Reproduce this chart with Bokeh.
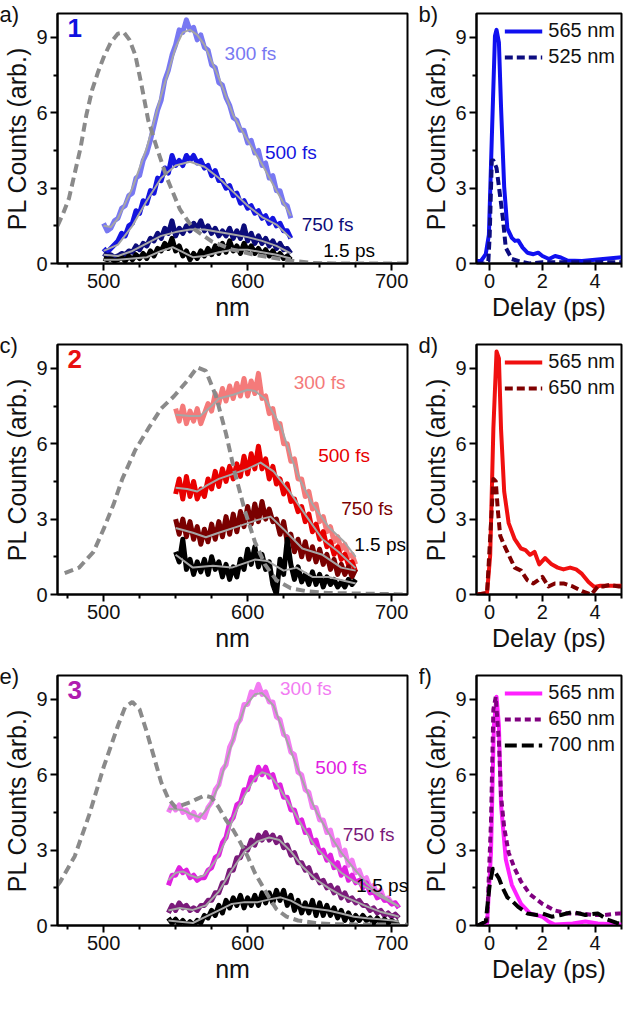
import numpy as np
from bokeh.plotting import figure
from bokeh.layouts import column, row
from bokeh.models import Range1d, FixedTicker, Label, Legend, LegendItem, Title
from bokeh.embed import file_html
from bokeh.resources import INLINE

FONT = "Liberation Sans"

# ---------------- Panel a (compound 1) ----------------
wl_a = np.arange(500, 630.01, 2.5)
a_300fs = [1.6, 1.3, 1.4, 1.7, 1.8, 2.2, 2.3, 2.7, 2.8, 3.4, 3.5, 4.1, 4.4, 4.9, 5.5, 6.1, 6.5, 7.3,
           7.7, 8.3, 8.7, 9.3, 9.2, 9.7, 9.3, 9.4, 8.9, 9.1, 8.6, 8.5, 7.9, 7.8, 7.2, 7.1, 6.6, 6.3,
           5.8, 5.7, 5.3, 5.3, 4.8, 4.9, 4.4, 4.5, 3.9, 4.0, 3.4, 3.5, 2.9, 2.9, 2.4, 2.3, 1.8]
a_500fs = [0.6, 0.45, 0.6, 0.75, 0.9, 1.2, 1.1, 1.5, 1.6, 2.1, 2.0, 2.5, 2.4, 2.9, 2.8, 3.4, 3.3, 3.8,
           3.6, 4.3, 3.9, 4.1, 3.9, 4.3, 4.1, 4.3, 4.0, 4.1, 3.8, 3.9, 3.5, 3.7, 3.3, 3.3, 3.0, 3.1,
           2.7, 2.8, 2.4, 2.5, 2.2, 2.3, 2.0, 2.1, 1.8, 1.9, 1.6, 1.8, 1.5, 1.6, 1.3, 1.3, 1.0]
a_750fs = [0.4, 0.3, 0.35, 0.25, 0.3, 0.4, 0.35, 0.5, 0.45, 0.7, 0.55, 0.8, 0.7, 1.0, 0.9, 1.2, 1.0, 1.4,
           1.2, 1.7, 1.1, 1.4, 1.2, 1.5, 1.3, 1.6, 1.4, 1.7, 1.3, 1.5, 1.2, 1.4, 1.1, 1.3, 1.1, 1.4,
           1.0, 1.3, 1.0, 1.5, 0.9, 1.2, 0.8, 1.1, 0.8, 1.0, 0.7, 0.9, 0.6, 0.8, 0.55, 0.6, 0.4]
a_15ps = [0.2, 0.15, 0.2, 0.1, 0.15, 0.25, 0.1, 0.3, 0.15, 0.35, 0.2, 0.4, 0.2, 0.5, 0.3, 0.6, 0.5, 0.8,
          0.6, 1.0, 0.5, 0.7, 0.3, 0.5, 0.15, 0.4, 0.2, 0.5, 0.3, 0.6, 0.35, 0.7, 0.4, 0.8, 0.45, 0.9,
          0.5, 0.7, 0.4, 0.8, 0.5, 0.7, 0.4, 0.6, 0.35, 0.55, 0.3, 0.5, 0.25, 0.4, 0.2, 0.3, 0.15]
sa_300_x = [500, 505, 510, 520, 530, 540, 550, 555, 560, 565, 570, 580, 590, 600, 610, 620, 630]
sa_300_y = [1.5, 1.45, 1.8, 3.0, 4.6, 6.7, 8.6, 9.2, 9.3, 9.1, 8.7, 7.4, 5.9, 4.9, 3.95, 2.9, 1.9]
sa_500_x = [500, 510, 520, 530, 540, 550, 560, 570, 580, 590, 600, 610, 620, 630]
sa_500_y = [0.5, 0.75, 1.5, 2.5, 3.4, 3.9, 4.05, 3.85, 3.4, 2.85, 2.3, 1.85, 1.55, 1.0]
sa_750_x = [500, 510, 520, 530, 540, 550, 560, 570, 580, 590, 600, 610, 620, 630]
sa_750_y = [0.35, 0.3, 0.5, 0.8, 1.1, 1.25, 1.35, 1.35, 1.25, 1.15, 1.05, 0.9, 0.7, 0.4]
sa_15_x = [500, 510, 520, 530, 540, 548, 555, 562, 570, 580, 590, 600, 610, 620, 630]
sa_15_y = [0.15, 0.15, 0.2, 0.25, 0.5, 0.65, 0.45, 0.25, 0.3, 0.45, 0.55, 0.55, 0.45, 0.35, 0.2]
abs_a_x = [468, 472, 476, 480, 484, 488, 492, 496, 500, 505, 510, 514, 518, 522, 526, 531, 537, 544,
           553, 562, 575, 589, 603, 616, 630, 645, 660, 712]
abs_a_y = [1.5, 2.0, 2.6, 3.6, 4.6, 5.9, 6.9, 7.6, 8.2, 8.8, 9.15, 9.2, 8.9, 8.3, 7.2, 5.7, 4.6, 3.4,
           2.15, 1.4, 0.88, 0.56, 0.37, 0.24, 0.11, 0.02, 0.0, 0.0]

# ---------------- Panel b ----------------
b565_t = [-0.5, -0.33, -0.15, -0.03, 0.08, 0.2, 0.26, 0.35, 0.43, 0.55, 0.67, 0.84, 0.96, 1.08, 1.25,
          1.43, 1.66, 1.84, 2.0, 2.25, 2.48, 2.7, 2.95, 3.5, 4.0, 4.5, 5.0]
b565_y = [0.1, 0.1, 0.37, 1.14, 4.97, 9.05, 9.3, 8.8, 6.25, 3.05, 1.4, 1.02, 0.9, 0.92, 0.63,
          0.43, 0.37, 0.43, 0.3, 0.18, 0.3, 0.24, 0.12, 0.1, 0.15, 0.2, 0.25]
b525_t = [-0.5, -0.2, -0.05, 0.0, 0.08, 0.14, 0.26, 0.37, 0.5, 0.61, 0.84, 1.08, 1.5, 2.0, 3.0, 4.0, 5.0]
b525_y = [0.0, 0.0, 0.1, 1.1, 4.1, 4.1, 3.8, 2.9, 1.8, 0.63, 0.18, 0.1, 0.0, 0.05, 0.05, 0.05, 0.05]

# ---------------- Panel c (compound 2) ----------------
wl_c = np.arange(550, 675.01, 2.5)
c_300fs = [7.4, 6.9, 7.5, 6.8, 7.3, 6.9, 7.4, 6.8, 7.2, 7.6, 7.3, 8.0, 7.6, 8.2, 7.7, 8.3, 7.8, 8.4,
           7.9, 8.6, 7.9, 8.5, 8.0, 8.8, 7.8, 7.9, 7.2, 7.4, 6.6, 6.8, 6.0, 6.0, 5.3, 5.4, 4.6, 4.6,
           3.9, 4.1, 3.4, 3.6, 2.9, 3.1, 2.5, 2.7, 2.1, 2.3, 1.8, 2.0, 1.5, 1.6, 1.2]
c_500fs = [4.0, 4.6, 3.8, 4.7, 3.9, 4.5, 3.8, 4.2, 3.9, 4.6, 4.2, 4.9, 4.3, 5.0, 4.5, 5.1, 4.6, 5.2,
           4.7, 5.5, 4.8, 5.6, 5.0, 5.9, 5.0, 5.4, 4.6, 5.1, 4.4, 4.6, 4.0, 4.4, 3.7, 3.8, 3.3, 3.5,
           2.9, 3.2, 2.5, 2.8, 2.2, 2.5, 1.9, 2.1, 1.6, 1.9, 1.4, 1.6, 1.2, 1.3, 0.9]
c_750fs = [3.0, 2.4, 3.0, 2.3, 2.9, 2.2, 2.7, 2.0, 2.6, 2.1, 2.8, 2.2, 2.9, 2.3, 3.1, 2.4, 3.2, 2.5,
           3.3, 2.7, 3.5, 2.8, 3.6, 2.9, 3.7, 3.0, 3.4, 2.9, 3.0, 2.4, 2.9, 2.1, 2.4, 1.7, 2.2, 1.5,
           2.1, 1.4, 1.9, 1.3, 1.8, 1.2, 1.6, 1.0, 1.4, 0.8, 1.2, 0.8, 1.1, 0.7, 1.0]
c_15ps = [1.7, 1.3, 2.2, 1.0, 1.4, 0.8, 1.3, 0.9, 1.4, 0.8, 1.5, 1.0, 1.3, 0.7, 1.2, 0.6, 1.1, 0.7,
          1.4, 1.0, 1.8, 1.2, 1.9, 1.1, 1.6, 1.0, 1.3, 0.4, 0.0, 1.4, 0.8, 2.2, 1.2, 0.6, 1.1, 0.5,
          0.8, 0.4, 0.9, 0.4, 0.8, 0.3, 0.7, 0.4, 0.6, 0.3, 0.5, 0.3, 0.6, 0.4, 0.6]
sc_300_x = [550, 560, 567, 575, 580, 590, 600, 605, 612, 618, 623, 630, 636, 645, 656, 667, 675]
sc_300_y = [7.15, 7.1, 7.1, 7.5, 7.8, 7.95, 8.15, 8.1, 7.8, 7.2, 6.7, 5.5, 4.6, 3.6, 2.7, 2.1, 1.5]
sc_500_x = [550, 558, 565, 572, 580, 590, 600, 609, 618, 629, 641, 652, 663, 675]
sc_500_y = [4.25, 4.2, 4.1, 4.35, 4.6, 4.8, 5.0, 5.25, 4.9, 4.1, 3.1, 2.2, 1.7, 1.05]
sc_750_x = [550, 562, 571, 580, 594, 607, 616, 625, 638, 652, 665, 675]
sc_750_y = [2.65, 2.46, 2.28, 2.46, 2.72, 2.97, 3.1, 2.6, 1.83, 1.58, 1.07, 0.95]
sc_15_x = [550, 562, 576, 589, 598, 605, 614, 625, 634, 645, 656, 675]
sc_15_y = [1.58, 1.07, 1.14, 1.07, 1.25, 1.39, 1.33, 0.95, 1.07, 0.7, 0.7, 0.44]
abs_c_x = [473, 483, 493, 500, 507, 513, 522, 531, 540, 549, 558, 565, 571, 578, 585, 591, 598,
           605, 612, 620, 630, 641, 656, 712]
abs_c_y = [0.85, 1.07, 1.7, 2.6, 3.6, 4.6, 5.75, 6.6, 7.4, 7.9, 8.5, 9.04, 8.9, 7.9, 6.4, 4.87,
           3.35, 2.1, 1.2, 0.57, 0.25, 0.13, 0.06, 0.0]

# ---------------- Panel d ----------------
d565_t = [-0.5, -0.1, 0.02, 0.14, 0.26, 0.35, 0.43, 0.55, 0.72, 0.95, 1.19, 1.36, 1.53, 1.7, 1.88,
          2.1, 2.35, 2.58, 2.8, 3.05, 3.28, 3.5, 3.75, 3.97, 4.2, 4.55, 4.9, 5.0]
d565_y = [0.0, 0.05, 1.58, 6.6, 9.67, 9.4, 6.6, 4.1, 2.84, 2.2, 1.83, 1.77, 1.58, 1.7, 1.2,
          1.45, 1.2, 1.07, 1.0, 1.07, 1.0, 0.82, 0.5, 0.3, 0.35, 0.35, 0.35, 0.35]
d650_t = [-0.45, -0.1, 0.05, 0.14, 0.23, 0.31, 0.4, 0.55, 0.72, 0.95, 1.19, 1.43, 1.66, 1.84, 2.0,
          2.23, 2.47, 2.8, 3.15, 3.5, 3.86, 4.1, 4.3, 4.55, 4.9, 5.0]
d650_y = [0.0, 0.06, 2.84, 4.6, 4.5, 3.35, 2.34, 1.96, 1.58, 1.07, 0.95, 0.57, 0.44, 0.57, 0.7,
          0.32, 0.44, 0.44, 0.32, 0.13, 0.0, 0.32, 0.32, 0.38, 0.32, 0.32]

# ---------------- Panel e (compound 3) ----------------
wl_e = np.arange(545, 705.01, 2.5)
e_300fs = [4.5, 4.8, 4.6, 4.8, 4.5, 4.6, 4.3, 4.5, 4.2, 4.4, 4.3, 4.7, 4.9, 5.4, 5.6, 6.2, 6.4, 7.1,
           7.4, 8.0, 8.2, 8.8, 8.8, 9.3, 9.2, 9.6, 9.2, 9.3, 8.9, 8.9, 8.3, 8.2, 7.6, 7.5, 6.9, 6.8,
           6.1, 6.0, 5.4, 5.3, 4.7, 4.7, 4.2, 4.2, 3.7, 3.8, 3.2, 3.4, 2.8, 3.0, 2.4, 2.6, 2.1, 2.2,
           1.8, 1.9, 1.5, 1.6, 1.2, 1.4, 1.0, 1.1, 0.9, 0.9, 0.7]
e_500fs = [1.6, 2.0, 2.0, 2.3, 2.1, 2.2, 1.9, 2.0, 1.8, 1.9, 1.9, 2.2, 2.3, 2.7, 2.8, 3.3, 3.5, 4.1,
           4.3, 4.8, 4.9, 5.4, 5.4, 5.9, 5.8, 6.3, 6.0, 6.3, 5.9, 6.0, 5.5, 5.6, 5.1, 5.1, 4.6, 4.6,
           4.1, 4.2, 3.7, 3.8, 3.3, 3.4, 2.9, 3.0, 2.6, 2.8, 2.3, 2.5, 2.0, 2.3, 1.8, 2.0, 1.7, 1.8,
           1.5, 1.7, 1.3, 1.4, 1.1, 1.2, 1.0, 1.0, 0.85, 0.9, 0.7]
e_750fs = [0.5, 0.8, 0.6, 0.9, 0.7, 0.8, 0.6, 0.7, 0.6, 0.8, 0.8, 1.0, 1.0, 1.3, 1.3, 1.7, 1.7, 2.2,
           2.2, 2.7, 2.7, 3.1, 3.0, 3.4, 3.2, 3.6, 3.4, 3.7, 3.4, 3.6, 3.3, 3.5, 3.1, 3.2, 2.8, 2.9,
           2.5, 2.5, 2.2, 2.3, 1.9, 2.0, 1.7, 1.8, 1.5, 1.6, 1.3, 1.5, 1.1, 1.3, 1.0, 1.1, 0.9, 1.0,
           0.8, 0.8, 0.6, 0.7, 0.5, 0.6, 0.4, 0.5, 0.35, 0.45, 0.3]
e_15ps = [0.3, 0.1, 0.25, 0.05, 0.2, 0.0, 0.15, 0.0, 0.2, 0.1, 0.4, 0.3, 0.6, 0.4, 0.8, 0.5, 1.0, 0.7,
          1.1, 0.8, 1.2, 0.7, 1.1, 0.8, 1.2, 0.8, 1.3, 0.9, 1.3, 0.9, 1.4, 1.0, 1.4, 0.8, 1.2, 0.6,
          1.0, 0.5, 0.9, 0.5, 1.0, 0.4, 0.9, 0.4, 0.8, 0.4, 0.7, 0.3, 0.6, 0.2, 0.5, 0.2, 0.4, 0.2,
          0.4, 0.2, 0.3, 0.1, 0.3, 0.1, 0.25, 0.1, 0.2, 0.1, 0.15]
se_300_x = [545, 555, 560, 567, 574, 580, 590, 598, 605, 610, 618, 625, 632, 640, 648, 656, 665, 674,
            683, 692, 701, 705]
se_300_y = [4.65, 4.6, 4.45, 4.3, 4.8, 5.6, 7.4, 8.7, 9.2, 9.25, 8.75, 7.7, 6.65, 5.5, 4.5, 3.7, 2.9,
            2.25, 1.65, 1.25, 0.9, 0.75]
se_500_x = [545, 550, 555, 560, 565, 570, 578, 584, 590, 595, 600, 605, 610, 615, 620, 625, 630, 638,
            647, 656, 665, 674, 683, 692, 701, 705]
se_500_y = [1.8, 2.1, 2.15, 2.0, 1.9, 2.0, 2.6, 3.3, 4.3, 4.9, 5.4, 5.85, 6.1, 6.0, 5.65, 5.2, 4.75,
            3.95, 3.15, 2.6, 2.1, 1.75, 1.5, 1.15, 0.88, 0.75]
se_750_x = [545, 553, 562, 571, 580, 589, 598, 607, 615, 622, 630, 638, 647, 656, 665, 674, 683, 692,
            701, 705]
se_750_y = [0.6, 0.7, 0.62, 0.8, 1.35, 2.2, 2.95, 3.35, 3.5, 3.4, 2.95, 2.35, 1.85, 1.5, 1.2, 0.98,
            0.75, 0.55, 0.42, 0.35]
se_15_x = [545, 553, 562, 571, 580, 589, 598, 607, 616, 623, 630, 638, 647, 656, 665, 674, 683, 692,
           701, 705]
se_15_y = [0.2, 0.15, 0.1, 0.35, 0.6, 0.86, 0.93, 0.93, 1.05, 1.12, 0.99, 0.74, 0.67, 0.6, 0.48, 0.35,
           0.29, 0.25, 0.2, 0.16]
abs_e_x = [468, 470, 480, 490, 500, 510, 515, 520, 525, 530, 535, 540, 545, 550, 555, 560, 565, 570,
           575, 580, 585, 590, 595, 600, 605, 610, 615, 620, 627, 635, 647, 660, 712]
abs_e_y = [1.6, 1.75, 2.76, 4.4, 6.3, 7.96, 8.7, 8.9, 8.6, 7.7, 6.7, 5.7, 5.04, 4.7, 4.8, 4.9, 5.04,
           5.17, 5.1, 4.7, 4.2, 3.8, 3.3, 2.75, 2.1, 1.6, 1.1, 0.65, 0.35, 0.2, 0.1, 0.05, 0.03]

# ---------------- Panel f ----------------
f565_t = [-0.45, -0.1, 0.05, 0.16, 0.26, 0.35, 0.43, 0.61, 0.84, 1.19, 1.53, 2.0, 2.23, 2.47, 3.15,
          3.63, 4.1, 4.9, 5.0]
f565_y = [0.0, 0.04, 2.9, 7.96, 9.1, 7.96, 4.8, 2.64, 1.62, 0.86, 0.48, 0.35, 0.16, 0.04, 0.08,
          0.16, 0.08, 0.04, 0.04]
f650_t = [-0.45, -0.1, 0.05, 0.14, 0.23, 0.35, 0.43, 0.55, 0.72, 0.95, 1.19, 1.53, 2.0, 2.47, 2.95,
          3.42, 3.9, 4.37, 4.9, 5.0]
f650_y = [0.0, 0.1, 4.16, 8.6, 9.1, 7.3, 5.17, 3.9, 2.9, 2.26, 1.75, 1.24, 0.86, 0.6, 0.48,
          0.48, 0.42, 0.42, 0.48, 0.48]
f700_t = [-0.45, -0.15, 0.0, 0.12, 0.2, 0.35, 0.49, 0.67, 0.84, 1.08, 1.43, 1.78, 2.0, 2.35, 2.7,
          3.15, 3.63, 4.1, 4.47, 4.82, 5.0]
f700_y = [0.0, 0.16, 1.62, 2.26, 2.13, 1.88, 1.5, 1.12, 0.99, 0.74, 0.48, 0.42, 0.48, 0.35, 0.42,
          0.54, 0.42, 0.48, 0.23, 0.1, 0.05]

time_labels = ["300 fs", "500 fs", "750 fs", "1.5 ps"]

# ---------------- layout constants ----------------
FH = 250
LB = 53
TOP = 13
BOT = 68
BOT_LAST = 66
WA, WB = 419, 205
RA, RB = 12, 3
SMOOTH = "#a6a6a6"
GRAYDASH = "#8a8a8a"


def style(p, xmaj, xmin, xlabel):
    p.xaxis.ticker = FixedTicker(ticks=xmaj, minor_ticks=xmin)
    p.yaxis.ticker = FixedTicker(ticks=[0, 3, 6, 9], minor_ticks=[1.5, 4.5, 7.5])
    p.xaxis.axis_label = xlabel
    p.yaxis.axis_label = "PL Counts (arb.)"
    for ax in p.axis:
        ax.axis_line_width = 2
        ax.major_tick_line_width = 2
        ax.minor_tick_line_width = 2
        ax.major_tick_in = 0
        ax.major_tick_out = 7
        ax.minor_tick_in = 0
        ax.minor_tick_out = 4
        ax.major_label_text_font = FONT
        ax.major_label_text_font_size = "20px"
        ax.major_label_text_color = "#111111"
        ax.axis_label_text_font = FONT
        ax.axis_label_text_font_size = "25px"
        ax.axis_label_text_font_style = "normal"
        ax.axis_label_text_color = "#111111"
        ax.major_label_standoff = 3
        ax.axis_label_standoff = 2
    p.xgrid.visible = False
    p.ygrid.visible = False
    p.outline_line_color = "black"
    p.outline_line_width = 2
    p.outline_line_alpha = 1.0
    p.background_fill_color = "white"
    p.border_fill_color = "white"


def corner(p, txt):
    # panel letter: a title in the top band, pushed left into the margin and down beside the frame
    p.add_layout(Title(text=txt, align="left", vertical_align="bottom", offset=-58,
                       text_font=FONT, text_font_size="22px", text_font_style="normal",
                       text_color="#111111", standoff=-26), "above")


def spec_fig(bottom, letter, num, numcolor, noisy, colors, smooth, absx, absy, wl, lab_pos):
    p = figure(width=WA, height=TOP + FH + bottom, x_range=Range1d(468, 711), y_range=Range1d(0, 9.95),
               output_backend="svg", toolbar_location=None,
               min_border_left=LB, min_border_right=RA, min_border_top=TOP, min_border_bottom=bottom)
    style(p, [500, 600, 700], [475, 525, 550, 575, 625, 650, 675], "nm")
    for ys, c in zip(noisy, colors):
        p.line(wl, ys, line_color=c, line_width=5, line_join="round")
    for sx, sy in smooth:
        p.line(sx, sy, line_color=SMOOTH, line_width=2, line_join="round")
    p.line(absx, absy, line_color=GRAYDASH, line_width=4, line_dash="9 5")
    corner(p, letter)
    p.add_layout(Label(x=10, y=FH - 5, x_units="screen", y_units="screen", text=num,
                       text_font=FONT, text_font_size="26px", text_font_style="bold",
                       text_color=numcolor, text_baseline="top"))
    for (lx, ly), t, c in zip(lab_pos, time_labels, colors):
        p.add_layout(Label(x=lx, y=ly, text=t, text_color=c, text_font=FONT, text_font_size="19px",
                           text_baseline="middle", text_align="left"))
    return p


def time_fig(bottom, letter, series):
    p = figure(width=WB, height=TOP + FH + bottom, x_range=Range1d(-0.5, 5.0), y_range=Range1d(0, 9.95),
               output_backend="svg", toolbar_location=None,
               min_border_left=LB, min_border_right=RB, min_border_top=TOP, min_border_bottom=bottom)
    style(p, [0, 2, 4], [1, 3, 5], "Delay (ps)")
    items = []
    for t, y, c, dash, lab in series:
        r = p.line(t, y, line_color=c, line_width=4, line_dash=dash, line_join="round")
        items.append(LegendItem(label=lab, renderers=[r]))
    leg = Legend(items=items, location="top_right", border_line_color=None, background_fill_alpha=0,
                 label_text_font=FONT, label_text_font_size="20px", label_text_color="#111111",
                 glyph_width=38, glyph_height=22, label_height=22, spacing=3, padding=2, margin=6,
                 label_standoff=6)
    p.add_layout(leg)
    corner(p, letter)
    return p


pa = spec_fig(BOT, "a)", "1", "#1010e0",
              [a_300fs, a_500fs, a_750fs, a_15ps], ["#7878f2", "#1414e0", "#0c0c7a", "#000000"],
              [(sa_300_x, sa_300_y), (sa_500_x, sa_500_y), (sa_750_x, sa_750_y), (sa_15_x, sa_15_y)],
              abs_a_x, abs_a_y, wl_a,
              [(584, 8.35), (612, 4.4), (637.5, 1.57), (652.5, 0.5)])
pb = time_fig(BOT, "b)", [(b565_t, b565_y, "#1010f0", "solid", "565 nm"),
                          (b525_t, b525_y, "#0c0c80", "8 4", "525 nm")])

pc = spec_fig(BOT, "c)", "2", "#e81010",
              [c_300fs, c_500fs, c_750fs, c_15ps], ["#f47a7a", "#e80000", "#7a0000", "#000000"],
              [(sc_300_x, sc_300_y), (sc_500_x, sc_500_y), (sc_750_x, sc_750_y), (sc_15_x, sc_15_y)],
              abs_c_x, abs_c_y, wl_c,
              [(632, 8.43), (649, 5.55), (665, 3.42), (674, 2.0)])
pd_ = time_fig(BOT, "d)", [(d565_t, d565_y, "#f01010", "solid", "565 nm"),
                           (d650_t, d650_y, "#800000", "8 4", "650 nm")])

pe = spec_fig(BOT_LAST, "e)", "3", "#b01cb0",
              [e_300fs, e_500fs, e_750fs, e_15ps], ["#f27cf2", "#e020e0", "#7a1a7a", "#000000"],
              [(se_300_x, se_300_y), (se_500_x, se_500_y), (se_750_x, se_750_y), (se_15_x, se_15_y)],
              abs_e_x, abs_e_y, wl_e,
              [(622.5, 9.43), (647, 6.27), (666, 3.61), (675.5, 1.6)])
pf = time_fig(BOT_LAST, "f)", [(f565_t, f565_y, "#ff20ff", "solid", "565 nm"),
                               (f650_t, f650_y, "#800080", "6 4", "650 nm"),
                               (f700_t, f700_y, "#000000", "12 5", "700 nm")])

layout = column(row(pa, pb), row(pc, pd_), row(pe, pf))
open("out.html", "w").write(file_html(layout, INLINE))
